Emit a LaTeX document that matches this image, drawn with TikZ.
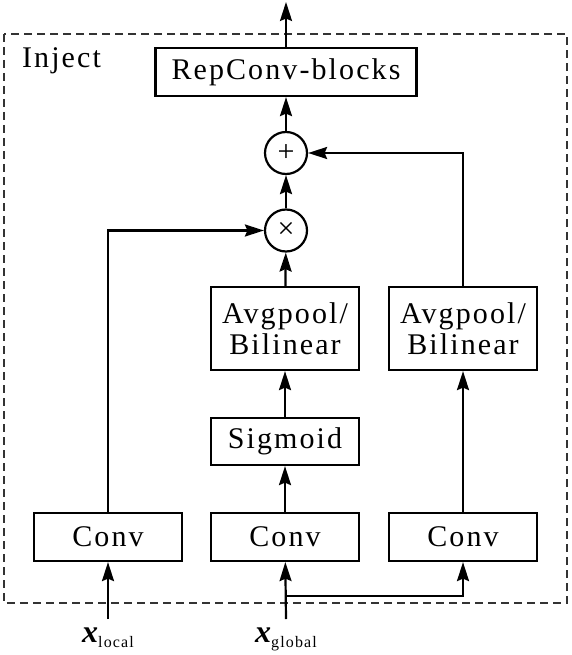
\documentclass[tikz,border=0pt]{standalone}
\usepackage{fontspec}
\setmainfont{Liberation Serif}[LetterSpace=7]
\usetikzlibrary{arrows.meta}

\begin{document}
\begin{tikzpicture}[x=1pt,y=-1pt,line width=2.2pt,
  blk/.style={draw,minimum width=148pt,minimum height=47pt,align=center,inner sep=2pt,font=\fontsize{30}{31}\selectfont},
  op/.style={draw,circle,minimum size=42pt,inner sep=0pt,font=\fontsize{30}{30}\selectfont},
  arr/.style={-{Stealth[length=19pt,width=12pt,inset=2.5pt]}}]
\useasboundingbox (0,0) rectangle (571,655);
\draw[line width=1.8pt,dash pattern=on 8pt off 5pt,black!80] (4,34) rectangle (567,603);
\node[anchor=base west,inner sep=0pt,font=\fontsize{30}{31}\selectfont] (lbl) at (21,68) {Inject};
\node[blk,minimum width=261pt,minimum height=48pt] (rep) at (286,72) {RepConv-blocks};
\node[op] (add) at (286,153) {\raisebox{-1pt}{+}};
\node[op] (mul) at (286,230.5) {\raisebox{-1pt}{×}};
\node[blk,minimum height=83pt] (poolm) at (285,328.5) {Avgpool/\\Bilinear};
\node[blk] (sig) at (285,441.5) {Sigmoid};
\node[blk,minimum height=48pt] (convl) at (108,537) {Conv};
\node[blk,minimum height=48pt] (convm) at (285,537) {Conv};
\node[blk,minimum height=48pt] (convr) at (463,537) {Conv};
\node[blk,minimum height=83pt] (poolr) at (463,328.5) {Avgpool/\\Bilinear};
\coordinate (out) at (286,2); \coordinate (inl) at (108,619); \coordinate (ing) at (286,619); \coordinate (br) at (286,596);
\node[anchor=base,inner sep=0pt] (xl) at (108,642) {\fontsize{32}{32}\selectfont\bfseries\itshape x\raisebox{-5pt}{\fontsize{16}{16}\selectfont\mdseries\upshape local}};
\node[anchor=base,inner sep=0pt] (xg) at (286,642) {\fontsize{32}{32}\selectfont\bfseries\itshape x\raisebox{-5pt}{\fontsize{16}{16}\selectfont\mdseries\upshape global}};
\draw[arr] (inl) -- (convl);
\draw[arr] (ing) -- (convm);
\draw[arr] (br) -| (convr);
\draw[arr] (convm) -- (sig);
\draw[arr] (sig) -- (poolm);
\draw[arr] (poolm) -- (mul);
\draw[arr] (convl) |- (mul);
\draw[arr] (convr) -- (poolr);
\draw[arr] (poolr) |- (add);
\draw[arr] (mul) -- (add);
\draw[arr] (add) -- (rep);
\draw[arr] (rep) -- (out);
\end{tikzpicture}
\end{document}
